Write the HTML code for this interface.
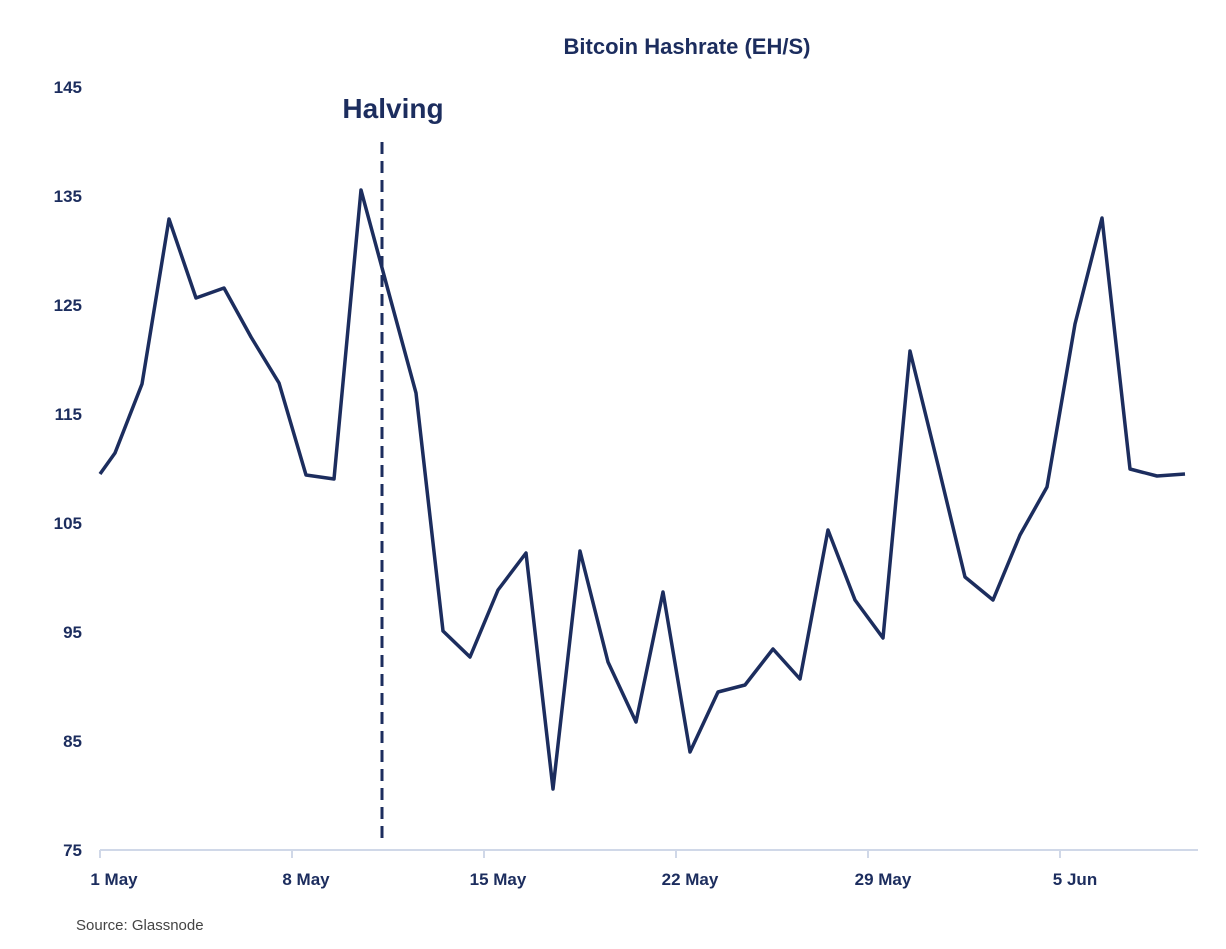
<!DOCTYPE html>
<html><head><meta charset="utf-8"><style>
body{margin:0;background:#fff;width:1226px;height:944px;overflow:hidden}
svg text{font-family:"Liberation Sans",sans-serif;fill:#1c2d5e}
</style></head><body>
<svg width="1226" height="944" viewBox="0 0 1226 944">
<text x="687" y="54" text-anchor="middle" font-size="22" font-weight="bold">Bitcoin Hashrate (EH/S)</text>
<g font-size="17" font-weight="bold" text-anchor="end">
<text x="82" y="93">145</text><text x="82" y="202">135</text><text x="82" y="311">125</text>
<text x="82" y="420">115</text><text x="82" y="529">105</text><text x="82" y="638">95</text>
<text x="82" y="747">85</text><text x="82" y="856">75</text>
</g>
<line x1="100" y1="850" x2="1198" y2="850" stroke="#d0d8e8" stroke-width="2"/>
<g stroke="#d0d8e8" stroke-width="2">
<line x1="100" y1="850" x2="100" y2="858"/><line x1="292" y1="850" x2="292" y2="858"/>
<line x1="484" y1="850" x2="484" y2="858"/><line x1="676" y1="850" x2="676" y2="858"/>
<line x1="868" y1="850" x2="868" y2="858"/><line x1="1060" y1="850" x2="1060" y2="858"/>
</g>
<g font-size="17" font-weight="bold" text-anchor="middle">
<text x="114" y="885">1 May</text><text x="306" y="885">8 May</text><text x="498" y="885">15 May</text>
<text x="690" y="885">22 May</text><text x="883" y="885">29 May</text><text x="1075" y="885">5 Jun</text>
</g>
<line x1="382" y1="142" x2="382" y2="842" stroke="#1c2d5e" stroke-width="3" stroke-dasharray="12,7"/>
<text x="393" y="118" text-anchor="middle" font-size="28" font-weight="bold">Halving</text>
<polyline fill="none" stroke="#1c2d5e" stroke-width="3.5" stroke-linejoin="round" points="100,474 115,453 142,384 169,219 196,298 224,288 251,337 279,383 306,475 334,479 361,190 388,290 416,393 443,631 470,657 498,590 526,553 553,789 580,551 608,662 636,722 663,592 690,752 718,692 745,685 773,649 800,679 828,530 855,600 883,638 910,351 938,465 965,577 993,600 1020,535 1047,487 1075,324 1102,218 1130,469 1157,476 1185,474"/>
<text x="76" y="930" font-size="15" style="fill:#444">Source: Glassnode</text>
</svg>
</body></html>
